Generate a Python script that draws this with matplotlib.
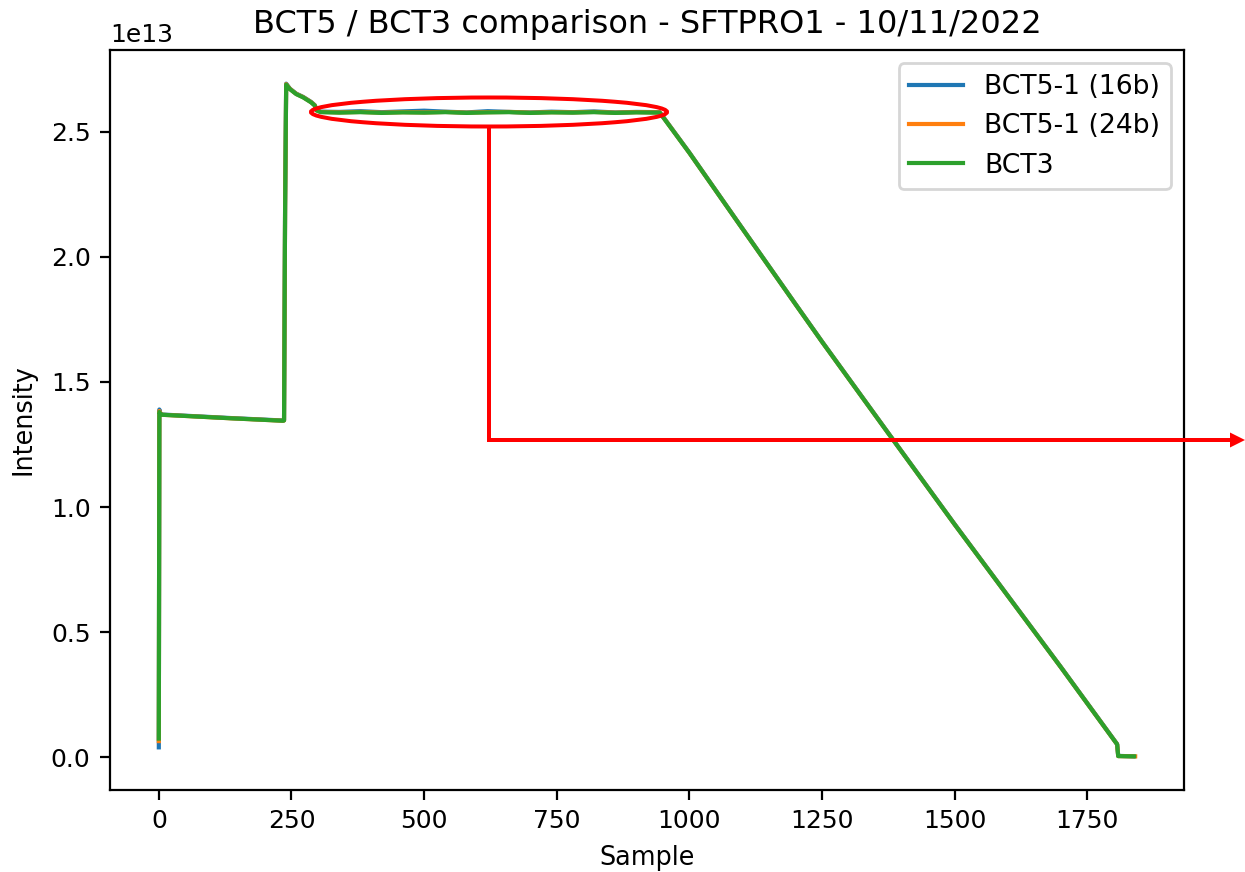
#!/usr/bin/env python3
"""
BCT5 / BCT3 intensity comparison, SFTPRO1 cycle of 10/11/2022.

Traces are given as knots (sample index, intensity / 1e13) read off the
acquisition plot; the red marker highlights the flat-top region.
"""

import matplotlib
matplotlib.use("Agg")
import matplotlib.pyplot as plt
from matplotlib.patches import Ellipse, FancyArrow
from matplotlib.lines import Line2D
import numpy as np

# ─── data (intensity in units of 1e13) ─────────────────
sample_bct3 = [0, 1, 3, 5, 70, 134, 234, 236, 238, 240, 247, 259, 272, 287,
               294, 297, 305, 340, 380, 420, 460, 500, 540, 580, 620, 660,
               700, 740, 780, 820, 860, 900, 944, 1000, 1094, 1200, 1250,
               1373, 1500, 1600, 1700, 1806, 1808, 1838]
bct3 = [0.075, 1.380, 1.372, 1.369, 1.362, 1.355, 1.345, 1.346, 2.20, 2.688,
        2.670, 2.650, 2.637, 2.617, 2.604, 2.585, 2.578, 2.576, 2.578, 2.575,
        2.577, 2.576, 2.578, 2.575, 2.577, 2.578, 2.575, 2.577, 2.576, 2.578,
        2.575, 2.577, 2.576, 2.415, 2.130, 1.810, 1.660, 1.300, 0.930, 0.645,
        0.360, 0.052, 0.005, 0.004]

sample_16b = [0, 1, 3, 5, 70, 134, 234, 236, 238, 240, 247, 259, 272, 287,
              294, 297, 305, 340, 380, 420, 460, 500, 540, 580, 620, 660,
              700, 740, 780, 820, 860, 900, 944, 1000, 1094, 1200, 1250,
              1373, 1500, 1600, 1700, 1806, 1808, 1836]
bct5_16b = [0.040, 1.390, 1.374, 1.370, 1.363, 1.356, 1.346, 1.347, 2.21,
            2.692, 2.672, 2.652, 2.639, 2.619, 2.606, 2.587, 2.580, 2.579,
            2.582, 2.578, 2.581, 2.584, 2.580, 2.577, 2.582, 2.579, 2.577,
            2.580, 2.578, 2.581, 2.577, 2.579, 2.578, 2.416, 2.131, 1.811,
            1.661, 1.301, 0.931, 0.646, 0.361, 0.053, 0.006, 0.004]

sample_24b = [0, 1, 3, 5, 70, 134, 234, 236, 238, 240, 247, 259, 272, 287,
              294, 297, 305, 340, 380, 420, 460, 500, 540, 580, 620, 660,
              700, 740, 780, 820, 860, 900, 944, 1000, 1094, 1200, 1250,
              1373, 1500, 1600, 1700, 1806, 1808, 1840]
bct5_24b = [0.065, 1.384, 1.373, 1.369, 1.362, 1.355, 1.345, 1.346, 2.20,
            2.690, 2.671, 2.651, 2.638, 2.618, 2.605, 2.586, 2.579, 2.577,
            2.579, 2.576, 2.578, 2.577, 2.579, 2.576, 2.578, 2.579, 2.576,
            2.578, 2.577, 2.579, 2.576, 2.578, 2.577, 2.415, 2.130, 1.810,
            1.660, 1.300, 0.930, 0.645, 0.360, 0.052, 0.005, 0.004]

labels = ["BCT5-1 (16b)", "BCT5-1 (24b)", "BCT3"]

# ─── figure geometry (pixels of the 1245x872 output) ───
W, H = 1245, 872
DPI = 200
AX_L, AX_R, AX_T, AX_B = 110, 1184, 50, 790


def fx(px):
    return px / W


def fy(py):
    return 1 - py / H


def draw_marker(fig):
    """red ellipse round the flat top + elbow arrow leaving the figure"""
    red = "#ff0000"
    lw = 4 * 72 / DPI
    fig.add_artist(Ellipse((fx(489), fy(112)), 356 / W, 29 / H,
                           transform=fig.transFigure, fill=False,
                           edgecolor=red, linewidth=lw))
    fig.add_artist(Line2D([fx(489), fx(489), fx(1232)],
                          [fy(127), fy(440), fy(440)],
                          transform=fig.transFigure, color=red,
                          linewidth=lw, solid_joinstyle="miter"))
    fig.add_artist(FancyArrow(fx(1230), fy(440), 15 / W, 0,
                              width=0, head_width=15 / H, head_length=15 / W,
                              length_includes_head=True,
                              transform=fig.transFigure, color=red, lw=0))


def main():
    plt.rcParams["xtick.labelsize"] = 9
    plt.rcParams["ytick.labelsize"] = 9
    plt.rcParams["axes.labelsize"] = 9.2
    plt.rcParams["legend.fontsize"] = 9.6
    plt.rcParams["axes.titlesize"] = 11.5
    plt.rcParams["font.size"] = 9

    fig = plt.figure(figsize=(W / DPI, H / DPI), dpi=DPI)
    ax = fig.add_axes([fx(AX_L), fy(AX_B), (AX_R - AX_L) / W,
                       (AX_B - AX_T) / H])

    scale = 1e13
    ax.plot(sample_16b, np.array(bct5_16b) * scale, label=labels[0])
    ax.plot(sample_24b, np.array(bct5_24b) * scale, label=labels[1])
    ax.plot(sample_bct3, np.array(bct3) * scale, label=labels[2])

    ax.set_title("BCT5 / BCT3 comparison - SFTPRO1 - 10/11/2022")
    ax.set_xlabel("Sample")
    ax.set_ylabel("Intensity", labelpad=5)
    ax.legend(loc="upper right")

    draw_marker(fig)
    fig.savefig("out.png", dpi=DPI)


if __name__ == "__main__":
    main()
